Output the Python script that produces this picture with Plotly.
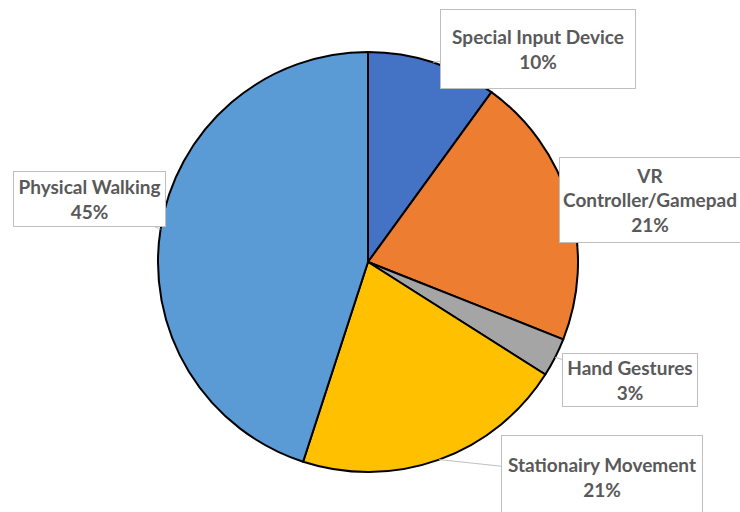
import math
import plotly.graph_objects as go

# Share of locomotion techniques (percent)
categories = ["Special Input Device", "VR Controller/Gamepad", "Hand Gestures",
              "Stationairy Movement", "Physical Walking"]
label_text = ["Special Input Device", "VR<br>Controller/Gamepad", "Hand Gestures",
              "Stationairy Movement", "Physical Walking"]
shares = [10, 21, 3, 21, 45]
colors = ["#4472C4", "#ED7D31", "#A5A5A5", "#FFC000", "#5B9BD5"]

W, H = 740, 512
CX, CY, R = 368, 262, 210  # pie centre and radius in pixels

# label box centres and sizes (px)
boxes = [
    (538, 49, 194, 78),
    (650, 200, 180, 84),
    (630, 380, 134, 52),
    (602, 477, 200, 82),
    (89, 199, 151, 54),
]
show_leader = [True, False, True, True, True]

fig = go.Figure(go.Pie(
    labels=categories,
    values=shares,
    sort=False,
    direction="clockwise",
    rotation=0,
    marker=dict(colors=colors, line=dict(color="black", width=2)),
    textinfo="none",
    hoverinfo="label+percent",
    domain=dict(x=[(CX - R) / W, (CX + R) / W], y=[1 - (CY + R) / H, 1 - (CY - R) / H]),
))

total = sum(shares)
cum = 0
annotations = []
for name, txt, v, box, lead in zip(categories, label_text, shares, boxes, show_leader):
    mid = (cum + v / 2) / total * 2 * math.pi
    cum += v
    tx = CX + R * math.sin(mid)
    ty = CY - R * math.cos(mid)
    bx, by, bw, bh = box
    pct = round(v / total * 100)
    common = dict(
        text=f"{txt}<br>{pct}%",
        font=dict(family="Lato, Noto Sans, sans-serif", size=19, color="#595959", weight="bold"),
        bgcolor="white",
        bordercolor="#BFBFBF",
        borderwidth=1,
        borderpad=0,
        width=bw,
        height=bh,
        align="center",
        valign="middle",
        xanchor="center",
        yanchor="middle",
        xref="paper",
        yref="paper",
    )
    if lead:
        annotations.append(dict(
            x=tx / W, y=1 - ty / H,
            ax=bx - tx, ay=by - ty,
            showarrow=True, arrowhead=0, arrowwidth=1, arrowcolor="#BFBFBF", standoff=0,
            **common,
        ))
    else:
        annotations.append(dict(x=bx / W, y=1 - by / H, showarrow=False, **common))

fig.update_layout(
    width=W, height=H,
    margin=dict(l=0, r=0, t=0, b=0),
    paper_bgcolor="white",
    showlegend=False,
    annotations=annotations,
)

fig.write_html("out.html")
